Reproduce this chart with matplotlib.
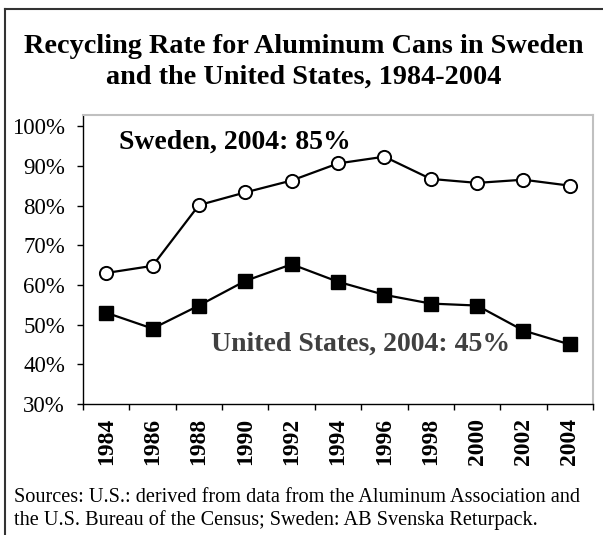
import matplotlib
matplotlib.use("Agg")
import matplotlib.pyplot as plt
from matplotlib.lines import Line2D
import numpy as np

plt.rcParams['font.family'] = ['Liberation Serif', 'DejaVu Serif']

years = ['1984', '1986', '1988', '1990', '1992', '1994', '1996', '1998', '2000', '2002', '2004']
sweden = [63.0, 64.8, 80.1, 83.3, 86.3, 90.6, 92.3, 86.7, 85.7, 86.5, 85.0]
us = [53.0, 49.0, 54.8, 61.0, 65.2, 60.8, 57.5, 55.3, 54.8, 48.5, 45.0]

W, H = 603, 535
fig = plt.figure(figsize=(W / 100, H / 100), dpi=100)
ax = fig.add_axes([83 / W, 1 - 404 / H, 510 / W, 289 / H])

x = np.arange(len(years))
ax.plot(x, sweden, color='black', lw=1.6, marker='o', ms=9.5,
        mfc='white', mec='black', mew=1.4, zorder=3, clip_on=False)
ax.plot(x, us, color='black', lw=1.6, marker='s', ms=9.5,
        mfc='black', mec='black', zorder=3, clip_on=False)

ax.set_xlim(-0.5, len(years) - 0.5)
ax.set_ylim(30, 102.8)
ax.set_yticks(np.arange(30, 101, 10))
ax.set_yticklabels(['%d%%' % v for v in range(30, 101, 10)], fontsize=16.5)

# ticks sit between categories, labels in the middle
ax.set_xticks(np.arange(-0.5, len(years), 1))
ax.set_xticklabels([])
ax.set_xticks(x, minor=True)
ax.set_xticklabels(years, minor=True, rotation=90, fontsize=17, fontweight='bold')
ax.tick_params(axis='x', which='minor', length=0, pad=10)
ax.tick_params(axis='x', which='major', direction='out', length=4, width=1)
ax.tick_params(axis='y', direction='out', length=4, width=1, pad=9)

for side in ['top', 'right']:
    ax.spines[side].set_color('#c0c0c0')
    ax.spines[side].set_linewidth(1.5)
for side in ['left', 'bottom']:
    ax.spines[side].set_color('black')
    ax.spines[side].set_linewidth(1)

ax.text(0.070, 0.907, 'Sweden, 2004: 85%', transform=ax.transAxes,
        fontsize=20, fontweight='bold', va='center', ha='left')
ax.text(0.251, 0.208, 'United States, 2004: 45%', transform=ax.transAxes,
        fontsize=20, fontweight='bold', color='#404040', va='center', ha='left')

fig.text(304 / W, 1 - 62 / H, 'Recycling Rate for Aluminum Cans in Sweden\nand the United States, 1984-2004',
         ha='center', va='center', fontsize=20.3, fontweight='bold', linespacing=1.32)

fig.text(14 / W, 1 - 509 / H,
         'Sources: U.S.: derived from data from the Aluminum Association and\n'
         'the U.S. Bureau of the Census; Sweden: AB Svenska Returpack.',
         ha='left', va='center', fontsize=14.6, linespacing=1.25)

# outer frame
fig.add_artist(Line2D([5 / W, 5 / W], [0, 1 - 9 / H], transform=fig.transFigure, color='#333333', lw=1.5))
fig.add_artist(Line2D([5 / W, 1], [1 - 9 / H, 1 - 9 / H], transform=fig.transFigure, color='#333333', lw=1.5))

fig.savefig('out.png', dpi=100)
